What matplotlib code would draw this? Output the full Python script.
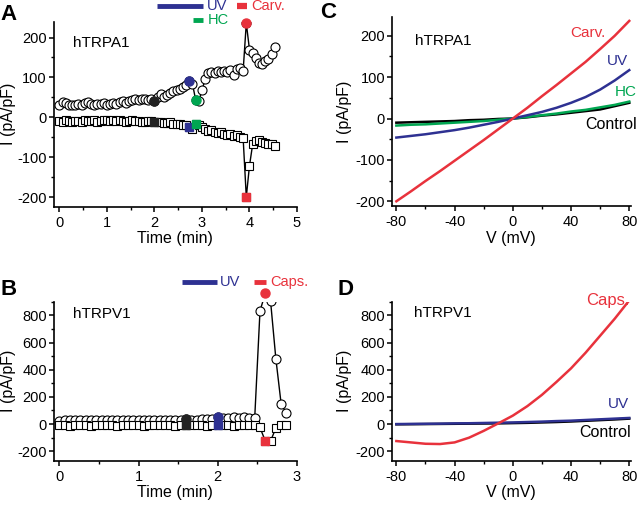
import numpy as np
import matplotlib
matplotlib.use("Agg")
import matplotlib.pyplot as plt
import matplotlib.transforms as mtransforms
from matplotlib.ticker import MultipleLocator

plt.rcParams['font.family'] = ['Liberation Sans', 'DejaVu Sans']
plt.rcParams['font.size'] = 11
plt.rcParams['axes.unicode_minus'] = False

blue = '#2e3192'
green = '#00a651'
red = '#e8323c'

# --- panel A: hTRPA1 time course (one sweep every 4 s) ---
sweep_a = 4 / 60
out_a = [32, 38, 35, 30, 32, 30, 33, 30, 35, 38, 33, 32, 34, 33, 35, 32, 34, 36, 33, 38,
         42, 36, 40, 43, 45, 44, 47, 45, 43, 45, 42, 52, 58, 50, 56, 60, 65, 68, 72, 76,
         80, 90, 84, 44, 40, 68, 95, 110, 114, 112, 116, 113, 117, 114, 118, 106, 120, 124, 116, 236,
         170, 160, 148, 137, 133, 140, 146, 158, 177]
in_a = [-10, -12, -8, -10, -12, -9, -10, -11, -7, -9, -10, -8, -12, -9, -6, -8, -10, -7, -9, -8,
        -10, -12, -9, -8, -10, -9, -11, -12, -10, -9, -12, -13, -11, -14, -15, -13, -17, -16, -18, -20,
        -19, -24, -30, -18, -20, -25, -30, -35, -33, -38, -40, -37, -42, -45, -43, -48, -45, -50, -52, -200,
        -122, -68, -60, -58, -62, -64, -66, -68, -71]
marks_a = {30: '#222222', 41: blue, 43: green, 59: red}

# --- panel B: hTRPV1 time course ---
sweep_b = 4 / 60
out_b = [25, 30, 28, 30, 27, 29, 30, 28, 27, 30, 29, 31, 28, 30, 27, 29, 30, 32, 29, 31,
         30, 33, 30, 31, 35, 33, 30, 34, 36, 40, 52, 48, 45, 50, 47, 49, 46, 45, 832, 962,
         905, 482, 150, 78]
in_b = [-10, -9, -11, -10, -10, -9, -11, -10, -10, -9, -10, -11, -10, -9, -10, -10, -11, -9, -10, -10,
        -9, -10, -11, -10, -10, -9, -10, -10, -11, -10, -10, -9, -10, -11, -10, -10, -9, -10, -25, -125,
        -125, -30, -8, -8]
marks_b = {24: '#222222', 30: blue, 39: red}

# --- panels C, D: I-V ramps ---
volt = [-80, -70, -60, -50, -40, -30, -20, -10, 0, 10, 20, 30, 40, 50, 60, 70, 80]
c_control = [-10, -9, -8, -7, -6, -4, -3, -1, 0, 3, 7, 10, 14, 18, 22, 30, 38]
c_hc = [-17, -15, -14, -12, -10, -8, -6, -3, 0, 4, 8, 12, 17, 21, 27, 33, 41]
c_uv = [-46, -42, -38, -33, -28, -22, -15, -8, 0, 8, 16, 26, 38, 52, 70, 92, 117]
c_carv = [-200, -176, -151, -127, -102, -77, -52, -26, 0, 26, 54, 81, 109, 137, 168, 200, 236]
d_control = [-2, -1, 0, 1, 2, 3, 4, 5, 7, 9, 12, 15, 19, 24, 29, 34, 40]
d_uv = [0, 1, 2, 3, 5, 6, 8, 10, 12, 15, 18, 22, 25, 30, 35, 40, 45]
d_caps = [-125, -135, -145, -147, -135, -100, -50, 5, 62, 132, 215, 310, 410, 525, 650, 775, 910]

fig = plt.figure(figsize=(6.4, 5.08), dpi=100)
axA = fig.add_axes([0.084, 0.5925, 0.38, 0.365])
axC = fig.add_axes([0.6125, 0.594, 0.373, 0.373])
axB = fig.add_axes([0.084, 0.093, 0.38, 0.313])
axD = fig.add_axes([0.6125, 0.093, 0.373, 0.313])


def style(ax, ylab_x):
    for s in ['top', 'right']:
        ax.spines[s].set_visible(False)
    for s in ['left', 'bottom']:
        ax.spines[s].set_linewidth(1.2)
    ax.tick_params(which='major', direction='out', length=3.5, width=1.1, pad=1.5, labelsize=10.5)
    ax.tick_params(which='minor', direction='out', length=2.2, width=1.0)
    ax.tick_params(axis='x', pad=3)
    ax.set_ylabel('I (pA/pF)', fontsize=11.5)
    ax.yaxis.set_label_coords(ylab_x, 0.5)


def time_course(ax, out, inw, marks, sweep):
    t = np.arange(len(out)) * sweep
    ax.plot(t, out, color='k', lw=1, marker='o', ms=6.5, mfc='white', mec='k', mew=0.8, zorder=3)
    ax.plot(t, inw, color='k', lw=1, marker='s', ms=5.8, mfc='white', mec='k', mew=0.8, zorder=3)
    for i, c in marks.items():
        ax.plot(t[i], out[i], 'o', ms=6.5, color=c, mec=c, zorder=4, clip_on=False)
        ax.plot(t[i], inw[i], 's', ms=5.8, color=c, mec=c, zorder=4, clip_on=False)
    ax.set_xlabel('Time (min)', fontsize=11.5, labelpad=1)


def bar(ax, x0, x1, y, c, lw, label, lx):
    tr = mtransforms.blended_transform_factory(ax.transData, ax.transAxes)
    ax.plot([x0, x1], [y, y], transform=tr, color=c, lw=lw, solid_capstyle='butt', clip_on=False)
    ax.text(lx, y, label, transform=tr, color=c, fontsize=10.5, ha='left', va='center')


# A
style(axA, -0.155)
time_course(axA, out_a, in_a, marks_a, sweep_a)
axA.set_xlim(-0.12, 5.0)
axA.set_ylim(-225, 240)
axA.xaxis.set_major_locator(MultipleLocator(1))
axA.xaxis.set_minor_locator(MultipleLocator(0.5))
axA.yaxis.set_major_locator(MultipleLocator(100))
axA.yaxis.set_minor_locator(MultipleLocator(50))
axA.text(0.29, 187, 'hTRPA1', fontsize=11, va='center')
bar(axA, 2.05, 3.03, 1.083, blue, 3.5, 'UV', 3.11)
bar(axA, 2.81, 3.03, 1.007, green, 3.5, 'HC', 3.13)
bar(axA, 3.73, 3.94, 1.083, red, 4.5, 'Carv.', 4.04)

# B
style(axB, -0.155)
time_course(axB, out_b, in_b, marks_b, sweep_b)
axB.set_xlim(-0.07, 3.0)
axB.set_ylim(-270, 900)
axB.xaxis.set_major_locator(MultipleLocator(1))
axB.xaxis.set_minor_locator(MultipleLocator(0.5))
axB.yaxis.set_major_locator(MultipleLocator(200))
axB.yaxis.set_minor_locator(MultipleLocator(100))
axB.text(0.17, 812, 'hTRPV1', fontsize=11, va='center')
bar(axB, 1.55, 1.99, 1.126, blue, 3.5, 'UV', 2.03)
bar(axB, 2.46, 2.61, 1.126, red, 3.5, 'Caps.', 2.66)

# C
style(axC, -0.167)
axC.plot(volt, c_control, color='k', lw=1.8)
axC.plot(volt, c_hc, color=green, lw=1.8)
axC.plot(volt, c_uv, color=blue, lw=1.8)
axC.plot(volt, c_carv, color=red, lw=1.8)
axC.set_xlim(-83, 81)
axC.set_ylim(-212, 246)
axC.xaxis.set_major_locator(MultipleLocator(40))
axC.xaxis.set_minor_locator(MultipleLocator(20))
axC.yaxis.set_major_locator(MultipleLocator(100))
axC.yaxis.set_minor_locator(MultipleLocator(50))
axC.set_xlabel('V (mV)', fontsize=11.5, labelpad=1)
axC.text(-67, 188, 'hTRPA1', fontsize=11, va='center')
axC.text(64, 206, 'Carv.', color=red, fontsize=11, ha='right', va='center')
axC.text(79, 139, 'UV', color=blue, fontsize=11, ha='right', va='center')
axC.text(85, 65, 'HC', color=green, fontsize=11, ha='right', va='center', clip_on=False)
axC.text(85, -14, 'Control', color='k', fontsize=11.5, ha='right', va='center', clip_on=False)

# D
style(axD, -0.167)
axD.plot(volt, d_control, color='k', lw=1.8)
axD.plot(volt, d_uv, color=blue, lw=1.8)
axD.plot(volt, d_caps, color=red, lw=1.8)
axD.set_xlim(-83, 81)
axD.set_ylim(-270, 900)
axD.xaxis.set_major_locator(MultipleLocator(40))
axD.xaxis.set_minor_locator(MultipleLocator(20))
axD.yaxis.set_major_locator(MultipleLocator(200))
axD.yaxis.set_minor_locator(MultipleLocator(100))
axD.set_xlabel('V (mV)', fontsize=11.5, labelpad=1)
axD.text(-68, 817, 'hTRPV1', fontsize=11, va='center')
axD.text(80, 910, 'Caps.', color=red, fontsize=12, ha='right', va='center')
axD.text(80, 146, 'UV', color=blue, fontsize=11, ha='right', va='center')
axD.text(81, -65, 'Control', color='k', fontsize=11.5, ha='right', va='center')

for lab, x, y in [('A', 0.0, 0.972), ('C', 0.5, 0.976), ('B', 0.0, 0.43), ('D', 0.527, 0.43)]:
    fig.text(x, y, lab, fontsize=16, fontweight='bold', va='center', ha='left')

fig.savefig('out.png', dpi=100)
